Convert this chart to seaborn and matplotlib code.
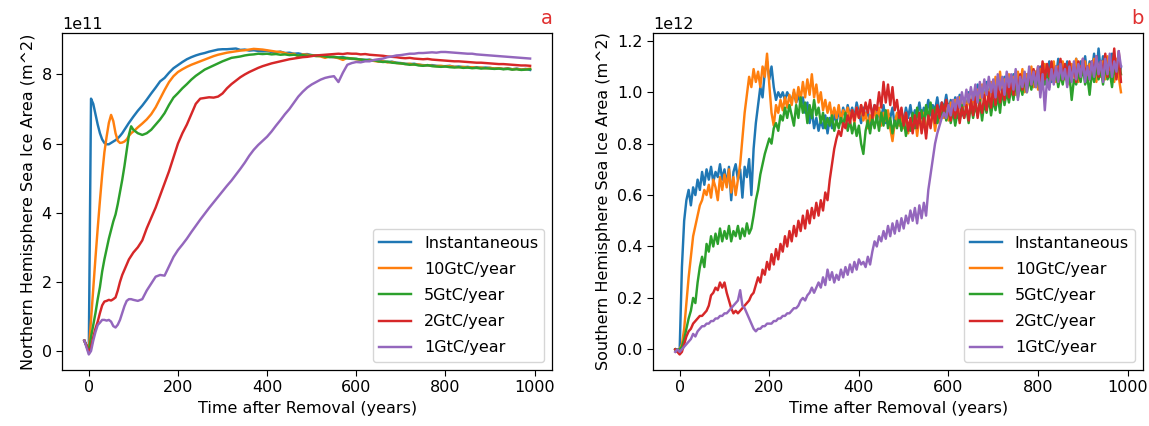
import numpy as np
import pandas as pd
import matplotlib
matplotlib.use("Agg")
import matplotlib.pyplot as plt
import seaborn as sns

scenarios = ["Instantaneous", "10GtC/year", "5GtC/year", "2GtC/year", "1GtC/year"]
colors = ["#1f77b4", "#ff7f0e", "#2ca02c", "#d62728", "#9467bd"]

# ---------------- Panel a: Northern Hemisphere (units of 1e11 m^2) ----------------
years_a = list(range(-10, 100, 5)) + list(range(100, 1000, 10))

nh_inst = [0.30, 0.15, 0.00, 7.30, 7.15, 6.85, 6.55, 6.30, 6.12, 6.02, 5.98,
           5.98, 6.02, 6.06, 6.10, 6.15, 6.22, 6.30, 6.40, 6.50, 6.60, 6.69,
           6.78, 6.95, 7.10, 7.27, 7.45, 7.62, 7.80, 7.90, 8.05, 8.18,
           8.27, 8.36, 8.44, 8.50, 8.55, 8.59, 8.62, 8.66, 8.69, 8.72,
           8.73, 8.73, 8.74, 8.75, 8.71, 8.72, 8.69, 8.70, 8.68, 8.67,
           8.68, 8.65, 8.64, 8.66, 8.62, 8.63, 8.60, 8.61, 8.58, 8.59,
           8.56, 8.55, 8.54, 8.55, 8.51, 8.50, 8.49, 8.50, 8.47, 8.45,
           8.45, 8.43, 8.42, 8.43, 8.40, 8.39, 8.38, 8.36, 8.37, 8.34,
           8.33, 8.31, 8.30, 8.31, 8.28, 8.27, 8.26, 8.27, 8.25, 8.24,
           8.24, 8.25, 8.22, 8.23, 8.21, 8.22, 8.20, 8.21, 8.19, 8.20,
           8.19, 8.17, 8.18, 8.16, 8.18, 8.15, 8.17, 8.14, 8.16, 8.13]

nh_10 = [0.30, 0.15, 0.00, 0.90, 1.80, 2.70, 3.55, 4.35, 5.10, 5.75, 6.20,
         6.60, 6.83, 6.65, 6.30, 6.08, 6.02, 6.03, 6.06, 6.12, 6.22, 6.30,
         6.35, 6.47, 6.58, 6.70, 6.85, 7.05, 7.30, 7.55, 7.78, 7.95,
         8.07, 8.15, 8.22, 8.28, 8.33, 8.38, 8.43, 8.48, 8.53, 8.57,
         8.60, 8.63, 8.65, 8.67, 8.69, 8.70, 8.72, 8.74, 8.73, 8.72,
         8.70, 8.68, 8.66, 8.65, 8.62, 8.58, 8.60, 8.52, 8.58, 8.57,
         8.55, 8.54, 8.52, 8.48, 8.52, 8.50, 8.47, 8.42, 8.48, 8.46,
         8.44, 8.43, 8.40, 8.42, 8.39, 8.37, 8.38, 8.35, 8.36, 8.33,
         8.32, 8.30, 8.31, 8.28, 8.29, 8.26, 8.27, 8.25, 8.24, 8.25,
         8.23, 8.24, 8.22, 8.21, 8.22, 8.20, 8.21, 8.19, 8.20, 8.18,
         8.19, 8.17, 8.18, 8.16, 8.17, 8.15, 8.16, 8.14, 8.15, 8.17]

nh_5 = [0.30, 0.15, 0.00, 0.40, 0.75, 1.10, 1.50, 1.85, 2.30, 2.65, 2.95,
        3.25, 3.50, 3.75, 3.95, 4.25, 4.60, 4.95, 5.35, 5.80, 6.25, 6.50,
        6.40, 6.30, 6.25, 6.30, 6.40, 6.55, 6.70, 6.88, 7.12, 7.33,
        7.46, 7.60, 7.72, 7.85, 7.96, 8.05, 8.14, 8.20, 8.26, 8.32,
        8.38, 8.43, 8.48, 8.50, 8.52, 8.55, 8.57, 8.58, 8.60, 8.59,
        8.60, 8.58, 8.59, 8.57, 8.58, 8.56, 8.57, 8.55, 8.56, 8.54,
        8.55, 8.53, 8.54, 8.52, 8.50, 8.51, 8.49, 8.48, 8.47, 8.46,
        8.45, 8.43, 8.42, 8.40, 8.41, 8.38, 8.36, 8.37, 8.34, 8.33,
        8.32, 8.30, 8.28, 8.29, 8.26, 8.25, 8.27, 8.24, 8.23, 8.22,
        8.23, 8.21, 8.20, 8.21, 8.19, 8.20, 8.18, 8.19, 8.17, 8.18,
        8.17, 8.16, 8.17, 8.15, 8.16, 8.14, 8.15, 8.13, 8.14, 8.15]

nh_2 = [0.30, 0.15, -0.05, 0.10, 0.40, 0.65, 0.85, 1.10, 1.32, 1.43, 1.45,
        1.48, 1.46, 1.50, 1.55, 1.75, 2.00, 2.20, 2.35, 2.50, 2.65, 2.75,
        2.85, 3.00, 3.20, 3.55, 3.85, 4.15, 4.50, 4.85, 5.20, 5.60,
        6.00, 6.30, 6.55, 6.85, 7.15, 7.30, 7.32, 7.34, 7.33, 7.36,
        7.45, 7.60, 7.72, 7.82, 7.92, 8.00, 8.07, 8.13, 8.19, 8.24,
        8.28, 8.32, 8.35, 8.38, 8.41, 8.44, 8.46, 8.48, 8.50, 8.51,
        8.53, 8.55, 8.56, 8.57, 8.58, 8.59, 8.60, 8.59, 8.61, 8.60,
        8.60, 8.58, 8.59, 8.57, 8.56, 8.55, 8.54, 8.52, 8.51, 8.50,
        8.48, 8.47, 8.48, 8.46, 8.45, 8.44, 8.45, 8.43, 8.42, 8.41,
        8.40, 8.39, 8.38, 8.38, 8.37, 8.36, 8.35, 8.34, 8.34, 8.33,
        8.32, 8.31, 8.30, 8.30, 8.29, 8.28, 8.27, 8.26, 8.26, 8.25]

nh_1 = [0.30, 0.10, -0.10, 0.00, 0.30, 0.55, 0.75, 0.82, 0.90, 0.90, 0.88,
        0.90, 0.85, 0.72, 0.68, 0.76, 0.90, 1.10, 1.30, 1.45, 1.50, 1.50,
        1.48, 1.45, 1.50, 1.75, 1.95, 2.15, 2.20, 2.18, 2.45, 2.72,
        2.92, 3.08, 3.25, 3.44, 3.62, 3.80, 3.97, 4.14, 4.30, 4.46,
        4.62, 4.78, 4.93, 5.10, 5.27, 5.45, 5.65, 5.82, 5.96, 6.08,
        6.20, 6.35, 6.52, 6.68, 6.85, 7.00, 7.18, 7.36, 7.50, 7.62,
        7.71, 7.78, 7.85, 7.90, 7.93, 7.95, 7.78, 8.05, 8.28, 8.33,
        8.36, 8.35, 8.38, 8.38, 8.42, 8.44, 8.46, 8.50, 8.52, 8.55,
        8.56, 8.58, 8.60, 8.60, 8.62, 8.62, 8.63, 8.64, 8.63, 8.65,
        8.65, 8.64, 8.63, 8.62, 8.61, 8.60, 8.60, 8.58, 8.57, 8.56,
        8.55, 8.54, 8.53, 8.52, 8.51, 8.50, 8.49, 8.48, 8.47, 8.46]

# ---------------- Panel b: Southern Hemisphere (units of 1e12 m^2) ----------------
years_b = list(range(-10, 990, 5))

sh_inst = [0.00, -0.01, 0.00, 0.32, 0.50, 0.58, 0.62, 0.56, 0.63, 0.60,
           0.66, 0.62, 0.69, 0.64, 0.70, 0.66, 0.71, 0.65, 0.69, 0.67,
           0.72, 0.66, 0.70, 0.64, 0.71, 0.58, 0.69, 0.72, 0.66, 0.70,
           0.59, 0.71, 0.67, 0.74, 0.60, 0.78, 0.88, 0.95, 1.02, 0.98,
           1.08, 1.12, 1.05, 1.10, 1.02, 0.97, 1.00, 0.98, 1.00, 0.97,
           1.00, 0.98, 0.97, 1.00, 0.96, 0.99, 0.95, 0.98, 0.92, 0.96,
           0.88, 0.93, 0.86, 0.90, 0.85, 0.89, 0.86, 0.91, 0.84, 0.90,
           0.86, 0.92, 0.88, 0.93, 0.89, 0.94, 0.90, 0.95, 0.91, 0.94,
           0.90, 0.96, 0.92, 0.88, 0.94, 0.90, 0.93, 0.87, 0.92, 0.95,
           0.89, 0.93, 0.90, 0.95, 0.88, 0.92, 0.90, 0.94, 0.87, 0.91,
           0.89, 0.93, 0.88, 0.94, 0.90, 0.95, 0.89, 0.93, 0.91, 0.96,
           0.90, 0.94, 0.92, 0.97, 0.91, 0.95, 0.93, 0.98, 0.92, 0.96,
           0.94, 0.99, 0.93, 0.97, 0.92, 0.98, 0.93, 0.99, 0.91, 0.97,
           0.94, 1.00, 0.93, 0.99, 0.95, 1.03, 0.96, 1.01, 0.97, 1.04,
           0.98, 1.03, 0.97, 1.05, 0.99, 1.04, 1.00, 1.06, 0.99, 1.05,
           1.01, 1.07, 1.00, 1.06, 1.02, 1.08, 1.01, 1.07, 1.03, 1.09,
           1.02, 1.08, 1.04, 1.10, 1.03, 1.09, 1.05, 1.12, 1.04, 1.10,
           1.06, 1.13, 1.05, 1.11, 1.06, 1.12, 1.05, 1.10, 1.07, 1.13,
           1.06, 1.12, 1.07, 1.14, 1.06, 1.12, 1.08, 1.15, 1.07, 1.17,
           1.08, 1.14, 1.06, 1.13, 1.07, 1.15, 1.05, 1.12, 1.06, 1.10]

sh_10 = [0.00, 0.00, 0.00, 0.02, 0.08, 0.18, 0.28, 0.36, 0.44, 0.48,
         0.52, 0.56, 0.58, 0.62, 0.60, 0.64, 0.59, 0.66, 0.63, 0.58,
         0.67, 0.62, 0.68, 0.63, 0.70, 0.61, 0.67, 0.60, 0.66, 0.72,
         0.82, 0.92, 0.99, 1.06, 1.02, 1.09, 1.04, 1.08, 1.02, 1.10,
         1.06, 1.15, 1.03, 0.92, 0.87, 0.95, 0.92, 0.97, 0.93, 0.98,
         0.94, 0.99, 0.95, 1.01, 0.96, 1.02, 0.97, 1.04, 0.98, 1.05,
         0.99, 1.07, 0.98, 1.03, 0.96, 1.00, 0.93, 0.97, 0.92, 0.96,
         0.90, 0.94, 0.90, 0.95, 0.89, 0.93, 0.91, 0.94, 0.90, 0.93,
         0.88, 0.94, 0.90, 0.95, 0.89, 0.92, 0.86, 0.91, 0.88, 0.93,
         0.90, 0.94, 0.87, 0.92, 0.89, 0.93, 0.86, 0.81, 0.88, 0.92,
         0.87, 0.91, 0.86, 0.92, 0.84, 0.89, 0.85, 0.91, 0.83, 0.90,
         0.86, 0.92, 0.84, 0.90, 0.87, 0.93, 0.85, 0.91, 0.88, 0.94,
         0.90, 0.95, 0.89, 0.96, 0.91, 0.97, 0.90, 0.98, 0.92, 0.97,
         0.93, 0.99, 0.92, 1.00, 0.94, 1.01, 0.95, 1.03, 0.96, 1.02,
         0.97, 1.04, 0.98, 1.06, 0.97, 1.08, 0.99, 1.05, 1.00, 1.07,
         1.01, 1.06, 0.99, 1.08, 1.02, 1.09, 1.00, 1.07, 1.03, 1.10,
         1.02, 1.08, 1.01, 1.09, 1.04, 1.11, 1.03, 1.08, 1.05, 1.12,
         1.04, 1.10, 1.06, 1.12, 1.05, 1.09, 1.03, 1.11, 1.06, 1.13,
         1.04, 1.10, 1.07, 1.12, 1.05, 1.11, 1.06, 1.13, 1.04, 1.10,
         1.06, 1.12, 1.05, 1.14, 1.07, 1.11, 1.04, 1.13, 1.06, 1.00]

sh_5 = [0.00, 0.00, 0.00, 0.01, 0.04, 0.08, 0.12, 0.15, 0.20, 0.18,
        0.26, 0.32, 0.36, 0.32, 0.41, 0.38, 0.44, 0.40, 0.45, 0.41,
        0.47, 0.42, 0.46, 0.43, 0.48, 0.42, 0.46, 0.44, 0.48, 0.43,
        0.47, 0.44, 0.49, 0.45, 0.47, 0.52, 0.58, 0.62, 0.68, 0.72,
        0.76, 0.79, 0.82, 0.80, 0.86, 0.88, 0.85, 0.91, 0.89, 0.94,
        0.90, 0.95, 0.91, 0.87, 0.95, 0.90, 0.98, 0.92, 0.96, 0.88,
        0.95, 0.90, 0.97, 0.91, 0.94, 0.88, 0.92, 0.86, 0.90, 0.87,
        0.91, 0.85, 0.89, 0.86, 0.90, 0.87, 0.92, 0.85, 0.89, 0.84,
        0.88, 0.83, 0.87, 0.80, 0.76, 0.85, 0.89, 0.84, 0.90, 0.86,
        0.91, 0.85, 0.92, 0.87, 0.93, 0.86, 0.90, 0.84, 0.89, 0.86,
        0.91, 0.85, 0.90, 0.83, 0.88, 0.85, 0.92, 0.86, 0.94, 0.88,
        0.93, 0.87, 0.95, 0.89, 0.96, 0.90, 0.94, 0.88, 0.93, 0.90,
        0.95, 0.89, 0.94, 0.88, 0.93, 0.87, 0.92, 0.89, 0.95, 0.90,
        0.94, 0.88, 0.96, 0.90, 0.95, 0.91, 0.97, 0.89, 0.96, 0.92,
        0.98, 0.91, 0.97, 0.93, 0.99, 0.92, 1.01, 0.95, 1.00, 0.96,
        1.02, 0.97, 1.04, 0.98, 1.03, 0.99, 1.06, 1.00, 1.05, 1.01,
        1.07, 1.02, 1.06, 1.00, 1.08, 1.03, 1.07, 1.02, 1.09, 1.04,
        1.08, 1.02, 1.07, 1.03, 1.09, 1.04, 1.07, 0.97, 1.05, 1.03,
        1.08, 1.04, 1.10, 1.03, 1.06, 0.99, 1.08, 1.04, 1.10, 1.05,
        1.09, 1.03, 1.11, 1.05, 1.08, 1.02, 1.10, 1.06, 1.12, 1.07]

sh_2 = [0.00, -0.01, -0.02, -0.01, 0.02, 0.05, 0.07, 0.08, 0.10, 0.11,
        0.12, 0.13, 0.13, 0.14, 0.15, 0.17, 0.21, 0.22, 0.24, 0.23,
        0.26, 0.24, 0.26, 0.22, 0.19, 0.16, 0.14, 0.15, 0.14, 0.15,
        0.16, 0.17, 0.18, 0.19, 0.21, 0.22, 0.25, 0.28, 0.26, 0.31,
        0.29, 0.34, 0.31, 0.37, 0.33, 0.39, 0.35, 0.41, 0.38, 0.44,
        0.40, 0.46, 0.42, 0.48, 0.44, 0.50, 0.46, 0.52, 0.47, 0.54,
        0.49, 0.55, 0.51, 0.57, 0.52, 0.58, 0.54, 0.61, 0.58, 0.66,
        0.72, 0.78, 0.82, 0.85, 0.83, 0.88, 0.86, 0.91, 0.88, 0.93,
        0.89, 0.94, 0.90, 0.95, 0.91, 0.96, 0.92, 0.97, 0.90, 0.95,
        0.93, 1.00, 0.94, 1.04, 0.96, 1.03, 0.95, 1.02, 0.93, 0.97,
        0.90, 0.94, 0.87, 0.92, 0.85, 0.90, 0.84, 0.91, 0.86, 0.92,
        0.84, 0.90, 0.82, 0.91, 0.86, 0.93, 0.88, 0.95, 0.90, 0.96,
        0.92, 0.97, 0.93, 0.89, 0.95, 0.90, 0.96, 0.88, 0.94, 0.90,
        0.95, 0.89, 0.97, 0.91, 0.98, 0.90, 0.96, 0.92, 0.99, 0.93,
        1.00, 0.94, 1.02, 0.95, 1.03, 0.96, 1.01, 0.97, 1.04, 0.98,
        1.05, 0.99, 1.06, 1.00, 1.07, 1.01, 1.06, 1.02, 1.08, 1.03,
        1.09, 1.04, 1.10, 1.03, 1.12, 1.05, 1.11, 1.06, 1.12, 1.05,
        1.10, 1.06, 1.13, 1.05, 1.11, 1.07, 1.12, 1.06, 1.10, 1.04,
        1.12, 1.06, 1.13, 1.07, 1.10, 1.05, 1.12, 1.08, 1.14, 1.06,
        1.12, 1.07, 1.15, 1.06, 1.13, 1.08, 1.17, 1.05, 1.16, 1.04]

sh_1 = [-0.01, 0.00, -0.01, 0.00, 0.01, 0.02, 0.03, 0.04, 0.06, 0.05,
        0.07, 0.08, 0.09, 0.09, 0.10, 0.10, 0.11, 0.11, 0.12, 0.12,
        0.13, 0.13, 0.14, 0.14, 0.15, 0.16, 0.17, 0.18, 0.19, 0.23,
        0.17, 0.16, 0.14, 0.12, 0.10, 0.08, 0.07, 0.08, 0.08, 0.09,
        0.09, 0.10, 0.10, 0.10, 0.11, 0.11, 0.12, 0.12, 0.13, 0.13,
        0.14, 0.14, 0.15, 0.16, 0.16, 0.17, 0.19, 0.20, 0.19, 0.21,
        0.22, 0.24, 0.22, 0.24, 0.26, 0.24, 0.28, 0.25, 0.31, 0.27,
        0.30, 0.26, 0.29, 0.27, 0.31, 0.28, 0.32, 0.29, 0.33, 0.30,
        0.34, 0.31, 0.35, 0.33, 0.34, 0.32, 0.36, 0.33, 0.38, 0.42,
        0.40, 0.44, 0.42, 0.46, 0.43, 0.48, 0.44, 0.49, 0.45, 0.50,
        0.46, 0.51, 0.47, 0.52, 0.49, 0.54, 0.50, 0.55, 0.49, 0.56,
        0.51, 0.57, 0.52, 0.62, 0.68, 0.74, 0.80, 0.84, 0.87, 0.90,
        0.92, 0.90, 0.95, 0.91, 0.97, 0.93, 0.98, 0.94, 1.00, 0.95,
        1.01, 0.96, 1.02, 0.97, 1.03, 0.96, 1.04, 0.98, 1.05, 0.99,
        1.06, 1.00, 1.05, 0.98, 1.07, 1.01, 1.06, 0.99, 1.08, 1.02,
        1.07, 1.01, 1.09, 0.97, 1.06, 1.02, 1.08, 1.00, 1.10, 1.03,
        1.08, 1.02, 1.10, 0.98, 1.07, 0.93, 1.05, 1.01, 1.09, 1.03,
        1.10, 1.04, 1.11, 1.05, 1.09, 1.02, 1.10, 1.04, 1.12, 1.05,
        1.11, 1.06, 1.13, 1.04, 1.10, 1.05, 1.12, 1.06, 1.14, 1.07,
        1.12, 1.04, 1.13, 1.07, 1.15, 1.06, 1.12, 1.08, 1.16, 1.10]

NH_UNIT = 1e11
SH_UNIT = 1e12


def long_frame(years, series, unit):
    rows = []
    for name, vals in zip(scenarios, series):
        assert len(vals) == len(years), (name, len(vals), len(years))
        for t, v in zip(years, vals):
            rows.append((t, v * unit, name))
    return pd.DataFrame(rows, columns=["year", "area", "scenario"])


df_a = long_frame(years_a, [nh_inst, nh_10, nh_5, nh_2, nh_1], NH_UNIT)
df_b = long_frame(years_b, [sh_inst, sh_10, sh_5, sh_2, sh_1], SH_UNIT)

FS = 11.5
plt.rcParams.update({
    "font.family": ["DejaVu Sans"],
    "font.size": FS,
    "xtick.major.size": 4,
    "ytick.major.size": 4,
    "axes.linewidth": 0.9,
})

fig, axes = plt.subplots(1, 2, figsize=(11.49, 4.26), dpi=100)
fig.subplots_adjust(left=0.054, right=0.995, bottom=0.132, top=0.922, wspace=0.205)

panels = [
    (axes[0], df_a, "Northern Hemisphere Sea Ice Area (m^2)", "a"),
    (axes[1], df_b, "Southern Hemisphere Sea Ice Area (m^2)", "b"),
]
for ax, df, ylabel, tag in panels:
    sns.lineplot(data=df, x="year", y="area", hue="scenario", hue_order=scenarios,
                 palette=colors, estimator=None, sort=False, linewidth=1.75, ax=ax)
    ax.set_xlabel("Time after Removal (years)", fontsize=FS)
    ax.set_ylabel(ylabel, fontsize=FS)
    ax.set_xticks([0, 200, 400, 600, 800, 1000])
    ax.tick_params(labelsize=FS)
    ax.yaxis.get_offset_text().set_fontsize(FS)
    sns.move_legend(ax, "lower right", title=None, fontsize=FS, labelspacing=0.7)
    ax.set_title(tag, loc="right", color="#e03030", fontsize=14, pad=7)

axes[1].set_yticks([0.0, 0.2e12, 0.4e12, 0.6e12, 0.8e12, 1.0e12, 1.2e12])

fig.savefig("out.png", dpi=100)
